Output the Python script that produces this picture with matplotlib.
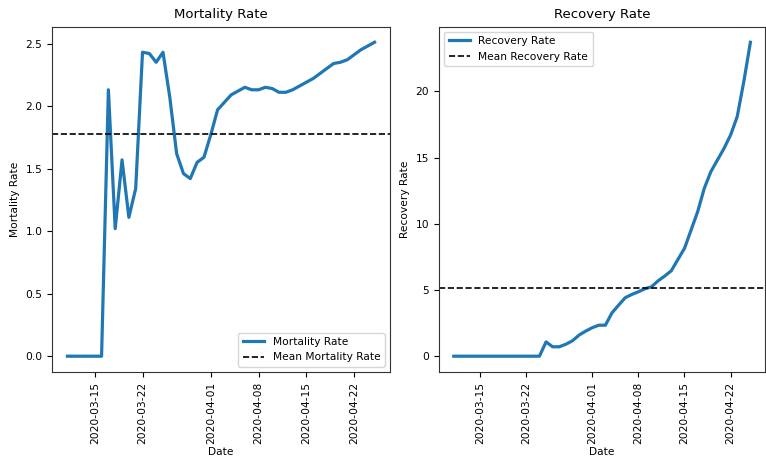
import numpy as np
import pandas as pd
import matplotlib
matplotlib.use("Agg")
import matplotlib.pyplot as plt
import matplotlib.dates as mdates

# Date zilnice 2020-03-11 .. 2020-04-25
start_date = "2020-03-11"

mortality_rate = [
    0, 0, 0, 0, 0, 0, 2.13, 1.02, 1.57, 1.11,
    1.34, 2.43, 2.42, 2.35, 2.43, 2.07, 1.62, 1.46, 1.42, 1.55,
    1.59, 1.77, 1.97, 2.03, 2.09, 2.12, 2.15, 2.13, 2.13, 2.15,
    2.14, 2.11, 2.11, 2.13, 2.16, 2.19, 2.22, 2.26, 2.30, 2.34,
    2.35, 2.37, 2.41, 2.45, 2.48, 2.51,
]

recovery_rate = [
    0, 0, 0, 0, 0, 0, 0, 0, 0, 0,
    0, 0, 0, 0, 1.08, 0.71, 0.71, 0.90, 1.16, 1.59,
    1.89, 2.15, 2.34, 2.34, 3.27, 3.85, 4.41, 4.66, 4.86, 5.09,
    5.24, 5.69, 6.05, 6.45, 7.30, 8.14, 9.52, 10.91, 12.67, 13.93,
    14.81, 15.69, 16.70, 18.09, 20.73, 23.70,
]

dates = pd.date_range(start_date, periods=len(mortality_rate), freq="D")

fs = 7.7
fig = plt.figure(figsize=(7.66, 4.58), dpi=100)
ax1 = fig.add_axes([0.068, 0.188, 0.441, 0.754])
ax2 = fig.add_axes([0.573, 0.188, 0.426, 0.754])


def deseneaza(ax, valori, nume, eticheta_medie, loc):
    ax.plot(dates, valori, color="#1f77b4", linewidth=2.3, label=nume)
    ax.axhline(np.mean(valori), color="black", linestyle="--", linewidth=1.2,
               label=eticheta_medie)
    ax.set_title(nume, fontsize=9.5)
    ax.set_xlabel("Date", fontsize=fs, labelpad=2)
    ax.set_ylabel(nume, fontsize=fs)
    ax.xaxis.set_major_locator(mdates.DayLocator(bymonthday=[1, 8, 15, 22]))
    ax.xaxis.set_major_formatter(mdates.DateFormatter("%Y-%m-%d"))
    ax.tick_params(axis="x", labelrotation=90, labelsize=fs)
    ax.tick_params(axis="y", labelsize=fs)
    for s in ax.spines.values():
        s.set_color("#333333")
    ax.legend(loc=loc, fontsize=fs)


deseneaza(ax1, mortality_rate, "Mortality Rate", "Mean Mortality Rate", "lower right")
deseneaza(ax2, recovery_rate, "Recovery Rate", "Mean Recovery Rate", "upper left")

fig.savefig("out.png", dpi=100)
